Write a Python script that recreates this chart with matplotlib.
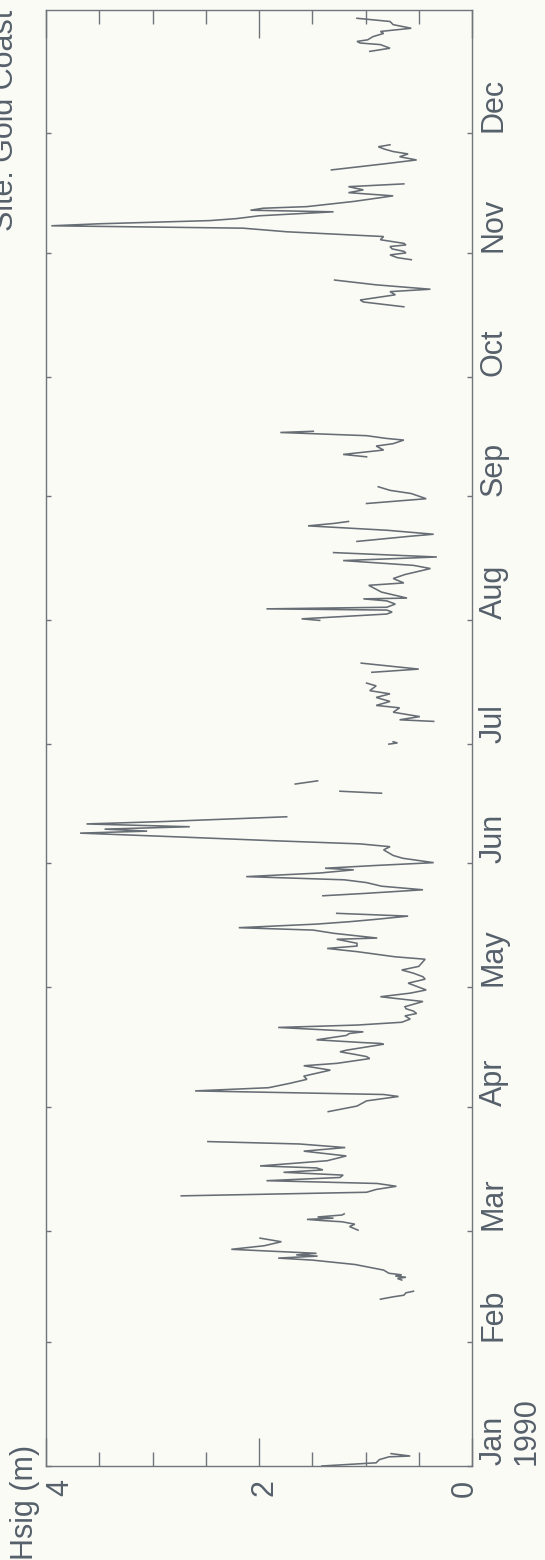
import numpy as np
import matplotlib
matplotlib.use("Agg")
import matplotlib.pyplot as plt
from matplotlib.transforms import blended_transform_factory

# ---------------- data (day of year 1990, significant wave height m) ----------------
day = [
    0.0, 0.8, 1.6, 2.3, 2.5, 3.1, np.nan,
    41.8, 42.4, 42.8, 43.4, 43.8, np.nan,
    46.6, 47.0, 47.3, 47.6, 47.9, 48.3, 49.1, 50.5, 51.6, 52.1, 52.6, 52.9, 53.3, 54.3, 55.2, 56.2, 57.1, np.nan,
    59.1, 60.0, 60.6, 61.2, 61.5, 61.8, 62.1, 62.4, 62.9, 63.2, np.nan,
    67.7, 68.6, 69.3, 70.1, 70.8, 71.5, 72.3, 72.9, 73.6, 74.2, 74.7, 75.2, 76.5, 77.7, 78.9, 79.8, 80.7, 81.3, np.nan,
    88.8, 90.2, 91.5, 92.6, 93.1, 94.0, 94.8, 95.9, 96.9, 97.7, 99.2, 100.3, 100.9, 102.1, 102.6, 103.2,
    103.8, 104.2, 105.7, 105.9, 106.1, 106.8, 107.9, 108.4, 108.8, 109.9, 110.5, 111.2, 112.0, 112.8, 113.4,
    114.0, 114.6, 115.1, 116.4, 117.6, 118.5, 119.3, 120.2, 121.0, 122.0, 122.6, 123.5, 124.3, 125.2, 126.1,
    127.0, 127.6, 128.9, 129.7, 130.3, 131.0, 132.0, 132.3, 133.5, 134.3, 134.9, 135.8, 136.4, 137.0, 137.8,
    138.5, np.nan,
    142.9, 143.5, 144.4, 145.3, 146.2, 146.9, 147.7, 148.6, 149.4, 149.8, 150.5, 151.2, 152.3, 153.0, 154.4,
    155.2, 155.9, 156.7, 157.6, 158.6, 159.1, 159.6, 160.2, 160.9, 161.5, 162.7, np.nan,
    168.6, 169.1, np.nan,
    170.9, 171.7, np.nan,
    180.9, 181.2, 181.5, np.nan,
    186.6, 187.0, 187.8, 188.9, 190.0, 190.6, 191.6, 192.6, 193.5, 194.3, 195.5, 196.2, np.nan,
    198.9, 199.7, 201.2, np.nan,
    211.9, 212.3, 213.5, 214.0, 214.5, 214.8, 215.2, 216.0, 216.8, 217.3, 217.5, 219.0, 220.7, 221.3, 222.4,
    223.4, 224.9, 225.7, 226.9, 227.8, 228.9, np.nan,
    231.7, 233.0, 233.5, 234.5, 235.6, 236.2, 236.7, np.nan,
    241.2, 242.4, 243.7, 244.5, 245.4, np.nan,
    252.9, 253.5, 254.6, 255.6, 256.2, 257.1, 257.5, 258.2, 259.0, 259.3, np.nan,
    290.5, 291.7, 292.2, 293.5, 294.3, 294.9, 296.0, 297.2, np.nan,
    302.3, 302.8, 303.5, 304.0, 304.4, 305.0, 305.6, 306.0, 306.4, 307.3, 308.1, 309.3, 310.2, 310.8, 311.3,
    312.1, 312.6, 313.3, 314.3, 314.7, 315.2, 315.6, 316.9, 318.3, 319.1, 319.8, 320.6, 321.3, np.nan,
    324.8, 325.8, 326.3, 327.3, 328.1, 328.8, 329.4, 330.0, 330.6, 331.1, np.nan,
    354.5, 355.3, 356.2, 356.6, 357.0, 357.4, 358.2, 359.0, 359.5, 360.3, 361.2, 362.0, 362.8,
]
hsig = [
    1.41, 0.90, 0.87, 0.78, 0.58, 0.76, np.nan,
    0.86, 0.74, 0.64, 0.62, 0.55, np.nan,
    0.66, 0.70, 0.62, 0.72, 0.66, 0.78, 0.83, 1.10, 1.50, 1.82, 1.45, 1.65, 1.46, 2.26, 1.95, 1.79, 1.99, np.nan,
    1.07, 1.15, 1.10, 1.22, 1.40, 1.55, 1.30, 1.45, 1.22, 1.20, np.nan,
    2.73, 0.99, 0.90, 0.71, 0.89, 1.93, 1.24, 1.21, 1.77, 1.40, 1.46, 1.99, 1.36, 1.18, 1.58, 1.19, 1.62, 2.48, np.nan,
    1.35, 1.08, 0.99, 0.69, 0.83, 2.60, 1.91, 1.71, 1.55, 1.58, 1.33, 1.58, 1.27, 0.96, 0.99, 1.11,
    1.24, 1.18, 0.83, 0.86, 1.02, 1.46, 1.18, 1.15, 1.02, 1.82, 1.08, 0.66, 0.58, 0.63, 0.52,
    0.55, 0.62, 0.63, 0.46, 0.86, 0.58, 0.43, 0.52, 0.60, 0.44, 0.46, 0.55, 0.66, 0.50, 0.47,
    0.44, 0.72, 1.08, 1.36, 1.08, 1.08, 1.27, 0.89, 1.30, 1.49, 2.19, 1.46, 1.15, 0.90, 0.60,
    1.27, np.nan,
    1.40, 1.00, 0.46, 0.85, 0.99, 1.20, 2.12, 1.43, 1.11, 1.38, 0.90, 0.36, 0.65, 0.74, 0.83,
    0.77, 1.05, 1.87, 2.71, 3.68, 3.05, 3.45, 2.65, 3.62, 2.90, 1.74, np.nan,
    0.85, 1.24, np.nan,
    1.66, 1.45, np.nan,
    0.78, 0.70, 0.74, np.nan,
    0.36, 0.68, 0.49, 0.74, 0.68, 0.90, 0.77, 0.90, 0.77, 0.96, 0.90, 0.99, np.nan,
    0.94, 0.50, 1.04, np.nan,
    1.43, 1.60, 0.80, 0.75, 0.80, 1.93, 0.80, 0.72, 0.80, 1.02, 0.61, 0.85, 0.97, 0.64, 0.74,
    0.63, 0.39, 0.55, 1.21, 0.33, 1.30, np.nan,
    1.08, 0.58, 0.36, 0.80, 1.54, 1.30, 1.16, np.nan,
    0.99, 0.43, 0.57, 0.77, 0.88, np.nan,
    0.99, 1.21, 0.83, 0.90, 0.74, 0.64, 0.80, 0.99, 1.80, 1.49, np.nan,
    0.64, 1.02, 1.05, 0.72, 0.77, 0.39, 0.90, 1.29, np.nan,
    0.57, 0.70, 0.77, 0.62, 0.64, 0.75, 0.77, 0.62, 0.64, 0.86, 0.83, 1.74, 2.15, 3.95, 3.50,
    2.46, 2.21, 2.00, 1.30, 2.08, 1.96, 1.55, 1.11, 0.74, 1.16, 1.02, 1.16, 0.64, np.nan,
    1.32, 0.99, 0.83, 0.52, 0.68, 0.60, 0.74, 0.82, 0.88, 0.77, np.nan,
    0.96, 0.77, 0.86, 1.05, 1.08, 0.98, 0.93, 0.83, 0.86, 0.57, 0.74, 0.77, 1.08,
]

month_names = ["Jan\n1990", "Feb", "Mar", "Apr", "May", "Jun",
               "Jul", "Aug", "Sep", "Oct", "Nov", "Dec"]
month_start = [0, 31, 59, 90, 120, 151, 181, 212, 243, 273, 304, 334]
hsig_labels = ["4", "2", "0"]
hsig_label_pos = [3.87, 1.95, 0.066]

# ---------------- styling ----------------
W, H = 545, 1560
bg = "#fbfbf6"
txt = "#56606b"
axc = "#6f757b"
linec = "#676d74"
font = "Liberation Sans"

fig = plt.figure(figsize=(W / 100, H / 100), dpi=100, facecolor=bg)
ax_l, ax_r, ax_t, ax_b = 46, 472, 9.5, 1466
ax = fig.add_axes([ax_l / W, (H - ax_b) / H, (ax_r - ax_l) / W, (ax_b - ax_t) / H])
ax.set_facecolor(bg)

ax.plot(hsig, day, color=linec, lw=1.15, solid_joinstyle="miter")

ax.set_xlim(4, 0)
ax.set_ylim(0, 365)

for s in ax.spines.values():
    s.set_color(axc)
    s.set_linewidth(1.0)

ax.set_xticks([0, 2, 4])
ax.set_xticks(np.arange(0.5, 4, 0.5), minor=True)
ax.tick_params(axis="x", which="major", direction="in", length=20, width=1.0,
               color=axc, top=True, bottom=True, labelbottom=False)
ax.tick_params(axis="x", which="minor", direction="in", length=10, width=1.0,
               color=axc, top=True, bottom=True)
ax.set_yticks(month_start)
ax.set_yticks([], minor=True)
ax.tick_params(axis="y", which="major", direction="in", length=3.5, width=1.0,
               color=axc, left=True, right=True, labelleft=False)

fs = 22
# Hsig tick labels (rotated page)
tr_x = blended_transform_factory(ax.transData, ax.transAxes)
yb = -(1488 - ax_b) / (ax_b - ax_t)
for lab, pos in zip(hsig_labels, hsig_label_pos):
    ax.text(pos, yb, lab, transform=tr_x, rotation=90, ha="center", va="center",
            fontsize=fs, color=txt, family=font)

# Month labels on right
tr_y = blended_transform_factory(ax.transAxes, ax.transData)
xm = 1 + (479 - ax_r) / (ax_r - ax_l)
for lab, d in zip(month_names, month_start):
    ax.text(xm, d + 0.2, lab, transform=tr_y, rotation=90, ha="left", va="bottom",
            fontsize=fs, color=txt, family=font, linespacing=1.1)

# Axis title (page top-left) and site title (page top-right -> image top-left, cut by the edge)
fig.text(10 / W, 0.0, "Hsig (m)", rotation=90, ha="left", va="bottom",
         fontsize=fs, color=txt, family=font)
fig.text(13 / W, (H - 10) / H, "Site: Gold Coast", rotation=90, rotation_mode="anchor",
         ha="right", va="baseline", fontsize=fs, color=txt, family=font)

fig.savefig("out.png", dpi=100, facecolor=bg)
